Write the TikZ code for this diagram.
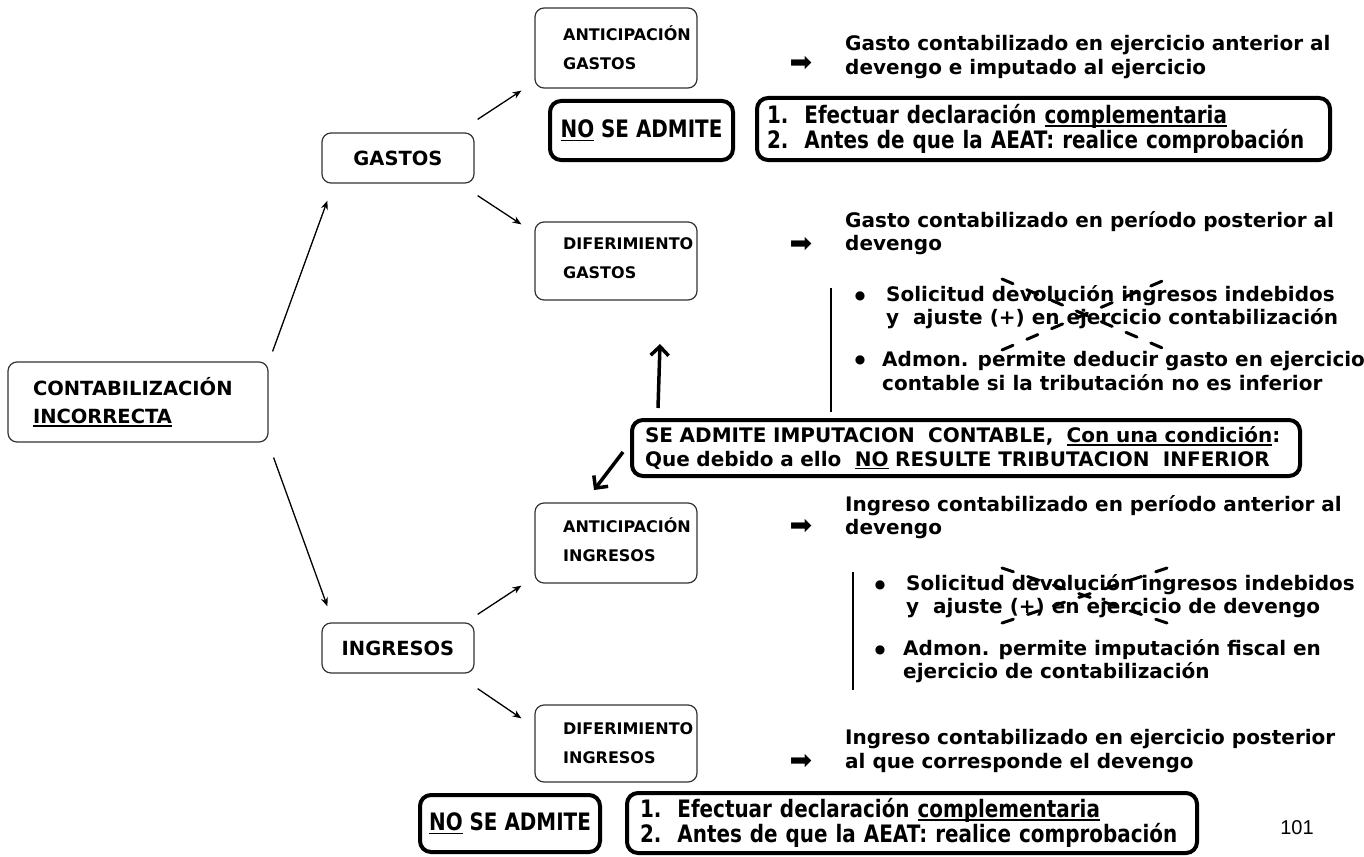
\documentclass[tikz,border=0pt]{standalone}
\usepackage{fontspec}
\setmainfont{DejaVu Sans}
\newfontfamily\condf[FakeStretch=0.83]{DejaVu Sans}
\newfontfamily\numf{Liberation Sans}
\usetikzlibrary{arrows.meta}
\newcommand\bodyf{\fontsize{20}{23.5}\selectfont\bfseries}
\newcommand\lblf{\fontsize{16}{29}\selectfont\bfseries}
\newcommand\bigf{\fontsize{19.5}{28}\selectfont\bfseries}
\newcommand\stepf{\condf\fontsize{24}{24.5}\selectfont\bfseries\hyphenpenalty=10000 }
\newcommand\uln[1]{\leavevmode\setbox0\hbox{#1}\rlap{\rule[-3pt]{\wd0}{1.4pt}}\box0\relax}
\begin{document}
\begin{tikzpicture}[x=1pt,y=-1pt,
  thinbox/.style={draw=black!80, line width=1.2pt, rounded corners=9pt, inner sep=0pt},
  thickbox/.style={draw=black, line width=4pt, rounded corners=11pt, inner sep=0pt},
  txt/.style={inner sep=0pt, align=left, font=\bodyf, anchor=west},
  lbl/.style={inner sep=0pt, align=left, font=\lblf, anchor=west},
  arr/.style={inner sep=0pt, font=\fontsize{27}{27}\selectfont},
  bul/.style={inner sep=0pt, font=\fontsize{12}{12}\selectfont},
  conn/.style={line width=1.3pt, -{Stealth[length=9pt,width=7pt]}},
  bigarrow/.style={line width=3.5pt, -{Straight Barb[length=9pt,width=18pt]}},
  xdash/.style={line width=3pt, dash pattern=on 12pt off 15pt, line cap=round},
  vline/.style={line width=1.5pt}]
\useasboundingbox (0,0) rectangle (1364,856);

% main boxes
\node[thinbox, minimum width=260pt, minimum height=80pt, text width=210pt, align=left, font=\bigf] (cont) at (138,402) {CONTABILIZACIÓN\\\uln{INCORRECTA}};
\node[thinbox, minimum width=152pt, minimum height=50pt, font=\bigf] (gastos) at (398,158) {GASTOS};
\node[thinbox, minimum width=152pt, minimum height=50pt, font=\bigf] (ingresos) at (398,648) {INGRESOS};

% sub boxes
\node[thinbox, minimum width=162pt, minimum height=80pt] (antg) at (616,48) {};
\node[lbl] (antgt) at (563,48) {ANTICIPACIÓN\\GASTOS};
\node[thinbox, minimum width=162pt, minimum height=78pt] (difg) at (616,261) {};
\node[lbl] (difgt) at (563,258) {DIFERIMIENTO\\GASTOS};
\node[thinbox, minimum width=162pt, minimum height=80pt] (anti) at (616,543) {};
\node[lbl] (antit) at (563,540) {ANTICIPACIÓN\\INGRESOS};
\node[thinbox, minimum width=162pt, minimum height=77pt] (difi) at (616,743.5) {};
\node[lbl] (difit) at (563,743) {DIFERIMIENTO\\INGRESOS};

% thick boxes
\node[thickbox, minimum width=183pt, minimum height=59pt, font=\stepf] (noadm1) at (641.5,130.5) {\uln{NO} SE ADMITE};
\node[thickbox, minimum width=573pt, minimum height=62pt, text width=553pt, align=left, font=\stepf] (steps1) at (1043.5,129) {1.\ \ Efectuar declaración \uln{complementaria}\\2.\ \ Antes de que la AEAT: realice comprobación};
\node[thickbox, minimum width=668pt, minimum height=56pt, text width=642pt, align=left, font=\bodyf] (se) at (966,448) {SE ADMITE IMPUTACION\ \ CONTABLE,\ \ \uln{Con una condición}:\\Que debido a ello\ \ \uln{NO} RESULTE TRIBUTACION\ \ INFERIOR};
\node[thickbox, minimum width=180pt, minimum height=57pt, font=\stepf] (noadm2) at (510,823.5) {\uln{NO} SE ADMITE};
\node[thickbox, minimum width=570pt, minimum height=60pt, text width=544pt, align=left, font=\stepf] (steps2) at (912,823) {1.\ \ Efectuar declaración \uln{complementaria}\\2.\ \ Antes de que la AEAT: realice comprobación};

% descriptions
\node[arr] (ar1) at (801,64) {➡};
\node[txt] (d1) at (845,57) {Gasto contabilizado en ejercicio anterior al\\devengo e imputado al ejercicio};
\node[arr] (ar2) at (801,245) {➡};
\node[txt] (d2) at (845,233) {Gasto contabilizado en período posterior al\\devengo};
\node[arr] (ar3) at (801,527) {➡};
\node[txt] (d3) at (845,517) {Ingreso contabilizado en período anterior al\\devengo};
\node[arr] (ar4) at (801,762) {➡};
\node[txt] (d4) at (845,751) {Ingreso contabilizado en ejercicio posterior\\al que corresponde el devengo};

% list 1
\coordinate (v1a) at (831,288);
\coordinate (v1b) at (831,412);
\draw[vline] (v1a) -- (v1b);
\node[bul] (b1) at (860,296) {●};
\node[txt] (l1) at (886,307) {Solicitud devolución ingresos indebidos\\y\ \ ajuste (+) en ejercicio contabilización};
\node[bul] (b2) at (860,360) {●};
\node[txt] (l2) at (882,371) {Admon. permite deducir gasto en ejercicio\\contable si la tributación no es inferior};
\coordinate (x1a) at (1002,279);
\coordinate (x1b) at (1167,350);
\coordinate (x1c) at (1002,350);
\coordinate (x1d) at (1167,279);
\draw[xdash] (x1a) -- (x1b);
\draw[xdash] (x1c) -- (x1d);

% list 2
\coordinate (v2a) at (853,572);
\coordinate (v2b) at (853,690);
\draw[vline] (v2a) -- (v2b);
\node[bul] (b3) at (880,585) {●};
\node[txt] (l3) at (906,596) {Solicitud devolución ingresos indebidos\\y\ \ ajuste (+) en ejercicio de devengo};
\node[bul] (b4) at (880,650) {●};
\node[txt] (l4) at (903,661) {Admon. permite imputación fiscal en\\ejercicio de contabilización};
\coordinate (x2a) at (1002,568);
\coordinate (x2b) at (1167,623);
\coordinate (x2c) at (1002,623);
\coordinate (x2d) at (1167,568);
\draw[xdash] (x2a) -- (x2b);
\draw[xdash] (x2c) -- (x2d);

% connectors
\draw[conn] ([shift={(4,-10)}]cont.north east) -- ([shift={(6,17)}]gastos.south west);
\draw[conn] ([shift={(5,15)}]cont.south east) -- ([shift={(6,-16)}]ingresos.north west);
\draw[conn] ([shift={(3,-13)}]gastos.north east) -- ([shift={(-13,2)}]antg.south west);
\draw[conn] ([shift={(3,12)}]gastos.south east) -- ([shift={(-13,3)}]difg.north west);
\draw[conn] ([shift={(3,-8)}]ingresos.north east) -- ([shift={(-13,2)}]anti.south west);
\draw[conn] ([shift={(3,15)}]ingresos.south east) -- ([shift={(-13,14)}]difi.north west);

% big arrows
\coordinate (upend) at (660,344);
\coordinate (dlend) at (594,490);
\draw[bigarrow] ([shift={(28,-10)}]se.north west) -- (upend);
\draw[bigarrow] ([shift={(-7,4)}]se.west) -- (dlend);

\node[inner sep=0pt, font=\numf\fontsize{20}{20}\selectfont] (pg) at (1297,828) {101};
\end{tikzpicture}
\end{document}
